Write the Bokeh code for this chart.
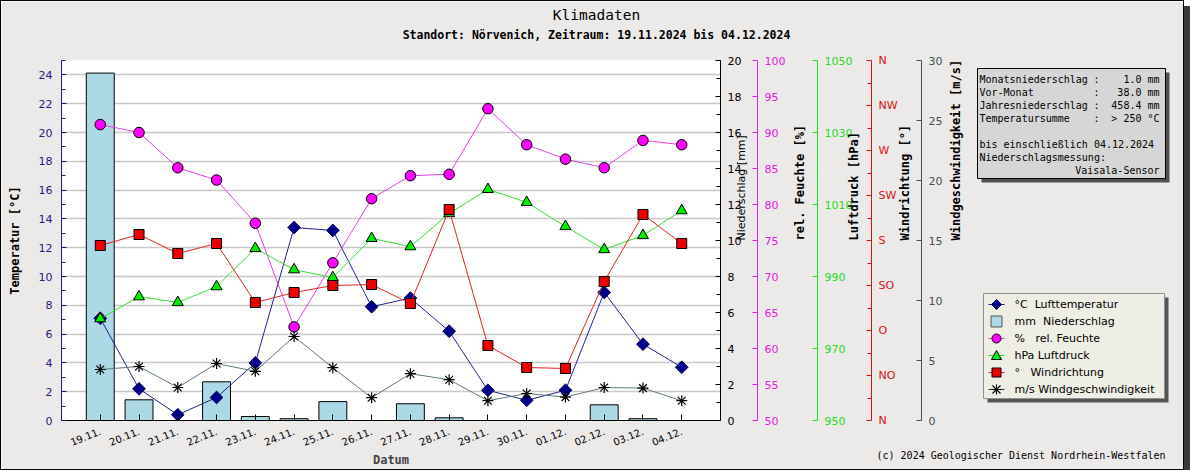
import math
from bokeh.plotting import figure
from bokeh.models import Range1d, LinearAxis, FixedTicker
from bokeh.core.properties import value
from bokeh.embed import file_html
from bokeh.resources import INLINE

# ---------------- data ----------------
dates = ["19.11.", "20.11.", "21.11.", "22.11.", "23.11.", "24.11.", "25.11.", "26.11.",
         "27.11.", "28.11.", "29.11.", "30.11.", "01.12.", "02.12.", "03.12.", "04.12."]
temperature = [7.1, 2.2, 0.4, 1.6, 4.0, 13.4, 13.2, 7.9, 8.5, 6.2, 2.1, 1.4, 2.1, 8.9, 5.3, 3.7]
precipitation = [19.3, 1.15, 0.0, 2.15, 0.22, 0.1, 1.05, 0.0, 0.93, 0.15, 0.0, 0.0, 0.0, 0.87, 0.1, 0.0]
humidity = [91.1, 90.0, 85.1, 83.4, 77.4, 63.0, 71.9, 80.8, 84.0, 84.2, 93.3, 88.3, 86.3, 85.1, 88.9, 88.3]
pressure = [978.3, 984.4, 982.8, 987.2, 997.8, 991.9, 989.7, 1000.6, 998.3, 1007.5, 1014.2,
            1010.6, 1003.9, 997.5, 1001.4, 1008.3]
wind_dir = [175, 186, 167, 177, 118, 128, 135, 136, 117, 211, 75, 53, 52, 139, 206, 177]
wind_speed = [4.25, 4.5, 2.75, 4.75, 4.1, 7.0, 4.4, 1.9, 3.9, 3.4, 1.65, 2.25, 1.95, 2.75, 2.7, 1.65]

temp_ticks = list(range(0, 25, 2))
precip_ticks = list(range(0, 21, 2))
hum_ticks = list(range(50, 101, 5))
pres_ticks = list(range(950, 1051, 20))
dir_ticks = [0, 45, 90, 135, 180, 225, 270, 315, 360]
dir_names = ["N", "NO", "O", "SO", "S", "SW", "W", "NW", "N"]
speed_ticks = list(range(0, 31, 5))

legend_labels = ["°C\u00a0\u00a0Lufttemperatur", "mm\u00a0\u00a0Niederschlag",
                 "%\u00a0\u00a0\u00a0rel. Feuchte", "hPa Luftdruck",
                 "°\u00a0\u00a0\u00a0Windrichtung", "m/s Windgeschwindigkeit"]

title_text = "Klimadaten"
subtitle_text = "Standort: Nörvenich, Zeitraum: 19.11.2024 bis 04.12.2024"
credit_text = "(c) 2024 Geologischer Dienst Nordrhein-Westfalen"
info_names = ["Monatsniederschlag", "Vor-Monat", "Jahresniederschlag", "Temperatursumme"]
info_values = ["1.0 mm", "38.0 mm", "458.4 mm", "> 250 °C"]
info_notes = ["bis einschließlich 04.12.2024", "Niederschlagsmessung:"]
info_sensor = "Vaisala-Sensor"

# ---------------- styling ----------------
BG = "#ece9e9"
MONO = "DejaVu Sans Mono"
SANS = "DejaVu Sans"
NAVY = "#1c1c80"
MAG = "#e020e0"
GRN = "#22dd22"
RED = "#dd1111"
SLATE = "#3b5353"

T_LINE, T_FILL = "#222290", "#00008a"
H_LINE, H_FILL = "#e040e0", "#ff00ff"
P_LINE, P_FILL = "#33dd33", "#00ee00"
D_LINE, D_FILL = "#e02222", "#ee0000"
S_LINE = "#5f7a7a"
BAR_FILL = "#add8e6"

xs = list(range(len(dates)))

p = figure(frame_width=659, frame_height=360, output_backend="svg", toolbar_location=None,
           x_range=Range1d(-1, len(dates)), y_range=Range1d(0, 25),
           min_border_left=60, min_border_right=463, min_border_top=59, min_border_bottom=42,
           background_fill_color="white", border_fill_color=BG, outline_line_color=None)
p.styles = {"border": "1px solid black", "box-shadow": "6px 6px 0px #3a3a3a"}

p.extra_y_ranges = {"precip": Range1d(0, 20), "hum": Range1d(50, 100),
                    "pres": Range1d(950, 1050), "wdir": Range1d(0, 360),
                    "wspd": Range1d(0, 30),
                    "py": Range1d(420, 60)}          # page-pixel mapping for decorations
p.extra_x_ranges = {"px": Range1d(61, 720)}

# grid
p.xgrid.visible = False
p.ygrid.ticker = FixedTicker(ticks=temp_ticks[1:])
p.ygrid.grid_line_color = "#c8c8c8"
p.ygrid.grid_line_width = 1.5

# left axis
ya = p.yaxis[0]
ya.ticker = FixedTicker(ticks=temp_ticks, minor_ticks=list(range(0, 26)))
ya.axis_line_color = NAVY
ya.major_tick_line_color = NAVY
ya.minor_tick_line_color = NAVY
ya.major_tick_in, ya.major_tick_out = 5, 0
ya.minor_tick_in, ya.minor_tick_out = 4, 0
ya.major_label_text_color = NAVY
ya.major_label_text_font = SANS
ya.major_label_text_font_size = "11px"
ya.major_label_standoff = 9
ya.axis_label = "Temperatur [°C]"
ya.axis_label_text_font = MONO
ya.axis_label_text_font_style = "bold"
ya.axis_label_text_font_size = "12px"
ya.axis_label_text_color = "black"
ya.axis_label_standoff = 14

# bottom axis
xa = p.xaxis[0]
xa.ticker = FixedTicker(ticks=xs)
xa.major_label_overrides = {i: d for i, d in enumerate(dates)}
xa.major_label_orientation = 0.38
xa.major_label_text_font = SANS
xa.major_label_text_font_size = "10px"
xa.major_label_text_color = "black"
xa.major_tick_in, xa.major_tick_out = 6, 0
xa.minor_tick_line_color = None
xa.axis_line_color = "black"
xa.major_label_standoff = 10
xa.axis_label = "Datum"
xa.axis_label_text_font = MONO
xa.axis_label_text_font_style = "bold"
xa.axis_label_text_font_size = "12px"
xa.axis_label_standoff = 0


def right_axis(rng, ticks, color, lcolor, label, lstandoff, minor=None, overrides=None,
               bold=True, font=MONO, lsize="12px"):
    ax = LinearAxis(y_range_name=rng,
                    ticker=FixedTicker(ticks=ticks, minor_ticks=minor or []))
    ax.axis_line_color = color
    ax.major_tick_line_color = color
    ax.minor_tick_line_color = color
    ax.major_tick_in, ax.major_tick_out = 5, 0
    ax.minor_tick_in, ax.minor_tick_out = 4, 0
    ax.major_label_text_color = lcolor
    ax.major_label_text_font = SANS
    ax.major_label_text_font_size = "11px"
    ax.major_label_standoff = 7
    if overrides:
        ax.major_label_overrides = overrides
    ax.axis_label = label
    ax.axis_label_text_font = font
    ax.axis_label_text_font_style = "bold" if bold else "normal"
    ax.axis_label_text_font_size = lsize
    ax.axis_label_text_color = "black"
    ax.axis_label_standoff = lstandoff
    ax.axis_label_orientation = math.pi / 2
    p.add_layout(ax, "right")
    return ax


def spacer(rng, w):
    ax = LinearAxis(y_range_name=rng, ticker=FixedTicker(ticks=[]),
                    axis_line_color=None, major_tick_line_color=None,
                    minor_tick_line_color=None, major_tick_out=w, major_tick_in=0,
                    minor_tick_out=0, minor_tick_in=0, major_label_standoff=0)
    p.add_layout(ax, "right")


right_axis("precip", precip_ticks, "black", "black", "Niederschlag [mm]", -3,
           minor=list(range(0, 21)), bold=False, font=SANS, lsize="11px")
spacer("precip", 17)
right_axis("hum", hum_ticks, MAG, MAG, "rel. Feuchte [%]", 12)
spacer("hum", 6)
right_axis("pres", pres_ticks, GRN, GRN, "Luftdruck [hPa]", -1)
right_axis("wdir", dir_ticks, RED, RED, "Windrichtung [°]", 4,
           minor=[22.5 + 45 * k for k in range(8)],
           overrides={t: n for t, n in zip(dir_ticks, dir_names)})
spacer("wdir", 8)
right_axis("wspd", speed_ticks, SLATE, SLATE, "Windgeschwindigkeit [m/s]", 11)

# ---------------- data glyphs ----------------
p.vbar(x=xs, top=precipitation, width=0.72, y_range_name="precip",
       fill_color=BAR_FILL, line_color="black", line_width=1)

p.line(xs, temperature, line_color=T_LINE, line_width=1)
p.scatter(xs, temperature, marker="square", angle=math.pi / 4, size=9,
          fill_color=T_FILL, line_color="#000050")

p.line(xs, humidity, y_range_name="hum", line_color=H_LINE, line_width=1)
p.scatter(xs, humidity, y_range_name="hum", marker="circle", size=10.5,
          fill_color=H_FILL, line_color="black")

p.line(xs, pressure, y_range_name="pres", line_color=P_LINE, line_width=1)
p.scatter(xs, pressure, y_range_name="pres", marker="triangle", size=11,
          fill_color=P_FILL, line_color="black")

p.line(xs, wind_dir, y_range_name="wdir", line_color=D_LINE, line_width=1)
p.scatter(xs, wind_dir, y_range_name="wdir", marker="square", size=10,
          fill_color=D_FILL, line_color="black")

p.line(xs, wind_speed, y_range_name="wspd", line_color=S_LINE, line_width=1)
p.scatter(xs, wind_speed, y_range_name="wspd", marker="asterisk", size=11,
          line_color="black", line_width=1.2)

# ---------------- decorations outside the frame (page-pixel coordinates) ----------------
PX = dict(x_range_name="px", y_range_name="py")


def texts(xl, yl, tl, size="10px", font=MONO, style="normal", align="left"):
    p.text(x=xl, y=yl, text=tl, text_font=value(font), text_font_size=size,
           text_font_style=style, text_align=align, text_baseline="middle",
           text_color="black", level="overlay", **PX)


texts([596], [14], [title_text], size="14.5px", align="center")
texts([596], [34], [subtitle_text], size="11.5px", style="bold", align="center")
texts([1165], [455], [credit_text], align="right")

# info box (shadow + box) and its texts
p.quad(left=[981], right=[1169], top=[72], bottom=[182], fill_color="#505050",
       line_color=None, level="guide", **PX)
p.quad(left=[977], right=[1165], top=[68], bottom=[178], fill_color="#d6d6d6",
       line_color="black", line_width=1, level="guide", **PX)
row_y = [79, 92, 105, 118]
texts([979] * 4, row_y, info_names)
texts([1093] * 4, row_y, [":"] * 4)
texts([1159] * 4, row_y, info_values, align="right")
texts([979, 979], [144, 157], info_notes)
texts([1159], [170], [info_sensor], align="right")

# legend (drawn by hand outside the frame)
p.quad(left=[987], right=[1168], top=[297], bottom=[402], fill_color="#555555",
       line_color=None, level="guide", **PX)
p.quad(left=[983], right=[1164], top=[293], bottom=[398], fill_color="#eeeee4",
       line_color="#909090", line_width=1, level="guide", **PX)
leg_y = [304, 321, 338, 355, 372, 389]
gx0, gx1, c = 988, 1004, 996
for yy, col in zip([leg_y[0], leg_y[2], leg_y[3], leg_y[4], leg_y[5]],
                   [T_LINE, H_LINE, P_LINE, D_LINE, "#333333"]):
    p.segment(x0=[gx0], y0=[yy], x1=[gx1], y1=[yy], line_color=col, line_width=1,
              level="overlay", **PX)

# diamond
y0 = leg_y[0]
p.patch(x=[c, c + 5, c, c - 5], y=[y0 - 5, y0, y0 + 5, y0], fill_color=T_FILL,
        line_color="#000050", level="overlay", **PX)
# bar box
p.quad(left=[c - 5.5], right=[c + 5.5], top=[leg_y[1] - 5.5], bottom=[leg_y[1] + 5.5],
       fill_color=BAR_FILL, line_color="#555555", level="overlay", **PX)
# circle
y0 = leg_y[2]
ang = [2 * math.pi * k / 24 for k in range(24)]
p.patch(x=[c + 4.5 * math.cos(a) for a in ang], y=[y0 + 4.5 * math.sin(a) for a in ang],
        fill_color=H_FILL, line_color="black", level="overlay", **PX)
# triangle
y0 = leg_y[3]
p.patch(x=[c - 5, c + 5, c], y=[y0 + 4, y0 + 4, y0 - 5], fill_color=P_FILL,
        line_color="black", level="overlay", **PX)
# square
y0 = leg_y[4]
p.quad(left=[c - 4.5], right=[c + 4.5], top=[y0 - 4.5], bottom=[y0 + 4.5], fill_color=D_FILL,
       line_color="black", level="overlay", **PX)
# asterisk
y0 = leg_y[5]
p.segment(x0=[c, c - 5, c - 4, c - 4], y0=[y0 - 5, y0, y0 - 4, y0 + 4],
          x1=[c, c + 5, c + 4, c + 4], y1=[y0 + 5, y0, y0 + 4, y0 - 4],
          line_color="black", line_width=1.1, level="overlay", **PX)

texts([1014] * 6, leg_y, legend_labels, size="11px", font=SANS)

open("out.html", "w").write(file_html(p, INLINE))
